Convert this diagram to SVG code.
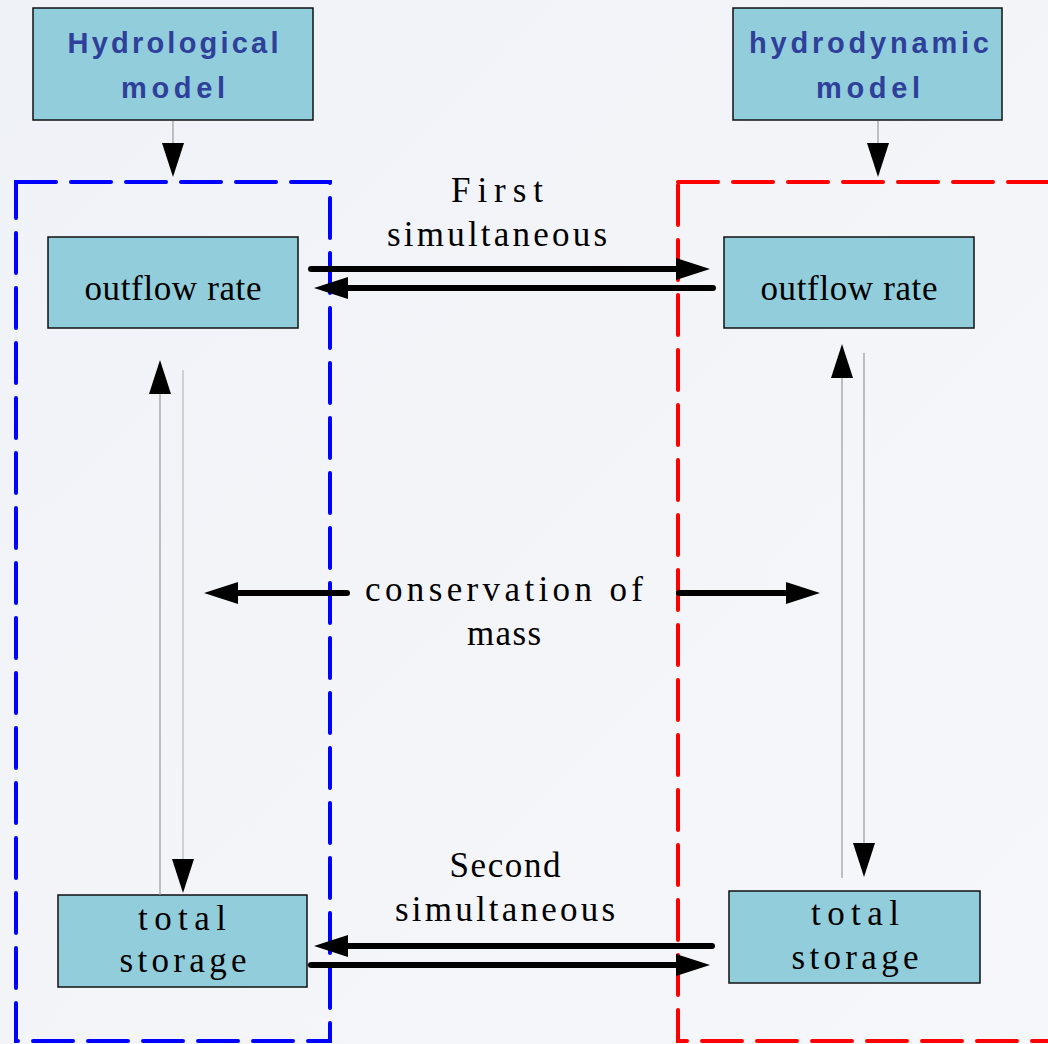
<svg xmlns="http://www.w3.org/2000/svg" width="1048" height="1044" viewBox="0 0 1048 1044">
<defs>
<linearGradient id="bg" x1="0" y1="0" x2="1" y2="1">
<stop offset="0" stop-color="#EFF2F7"/>
<stop offset="1" stop-color="#F6F7FA"/>
</linearGradient>
<marker id="big" markerUnits="userSpaceOnUse" markerWidth="34" markerHeight="22" refX="4" refY="11" orient="auto">
<path d="M0,0 L34,11 L0,22 Z" fill="#000"/>
</marker>
<marker id="small" markerUnits="userSpaceOnUse" markerWidth="34" markerHeight="22" refX="1" refY="11" orient="auto">
<path d="M0,0 L34,11 L0,22 Z" fill="#000"/>
</marker>
<style>
.box{fill:#92CDDC;stroke:#111;stroke-width:1.5}
.title{font-family:"Liberation Sans",Arial,sans-serif;font-weight:bold;font-size:29px;fill:#2E4099;text-anchor:middle}
.lbl{font-family:"Liberation Serif","Times New Roman",serif;font-size:35px;fill:#000;text-anchor:middle}
.thick{stroke:#000;stroke-width:6;stroke-linecap:round;fill:none;marker-end:url(#big)}
.thin{stroke:#9a9a9a;stroke-width:1.2;fill:none;marker-end:url(#small)}
.thin2{stroke:#b8b8b8;stroke-width:1.2;fill:none;marker-end:url(#small)}
.dash{fill:none;stroke-width:4;stroke-dasharray:40 15;stroke-linecap:round}
</style>
</defs>
<rect width="1048" height="1044" fill="url(#bg)"/>

<g id="frame-hydrological">
<rect x="16" y="182" width="314" height="859" class="dash" stroke="#0000FF"/>
</g>
<g id="frame-hydrodynamic">
<rect x="678" y="182" width="400" height="859" class="dash" stroke="#FF0000"/>
</g>

<g id="node-hydrological-model">
<rect x="33" y="8" width="280" height="112" class="box"/>
<text x="173" y="53" class="title" textLength="211" lengthAdjust="spacing">Hydrological</text>
<text x="173" y="98" class="title" textLength="104" lengthAdjust="spacing">model</text>
</g>
<g id="node-hydrodynamic-model">
<rect x="733" y="8" width="269" height="112" class="box"/>
<text x="869" y="53" class="title" textLength="240" lengthAdjust="spacing">hydrodynamic</text>
<text x="868" y="98" class="title" textLength="104" lengthAdjust="spacing">model</text>
</g>
<g id="node-outflow-left">
<rect x="48" y="237" width="250" height="91" class="box"/>
<text x="173" y="300" class="lbl" textLength="177" lengthAdjust="spacing">outflow rate</text>
</g>
<g id="node-outflow-right">
<rect x="724" y="237" width="250" height="91" class="box"/>
<text x="849" y="300" class="lbl" textLength="177" lengthAdjust="spacing">outflow rate</text>
</g>
<g id="node-storage-left">
<rect x="58" y="895" width="249" height="92" class="box"/>
<text x="182" y="930" class="lbl" textLength="88" lengthAdjust="spacing">total</text>
<text x="183" y="972" class="lbl" textLength="127" lengthAdjust="spacing">storage</text>
</g>
<g id="node-storage-right">
<rect x="729" y="891" width="251" height="92" class="box"/>
<text x="855" y="925" class="lbl" textLength="88" lengthAdjust="spacing">total</text>
<text x="855" y="969" class="lbl" textLength="127" lengthAdjust="spacing">storage</text>
</g>

<g id="labels">
<text x="497" y="202" class="lbl" textLength="92" lengthAdjust="spacing">First</text>
<text x="497" y="246" class="lbl" textLength="220" lengthAdjust="spacing">simultaneous</text>
<text x="504" y="601" class="lbl" textLength="278" lengthAdjust="spacing">conservation of</text>
<text x="504" y="645" class="lbl" textLength="74" lengthAdjust="spacing">mass</text>
<text x="505" y="877" class="lbl" textLength="111" lengthAdjust="spacing">Second</text>
<text x="505" y="921" class="lbl" textLength="220" lengthAdjust="spacing">simultaneous</text>
</g>

<g id="connectors">
<line x1="173" y1="121" x2="173" y2="144" class="thin"/>
<line x1="878" y1="121" x2="878" y2="144" class="thin"/>
<line x1="311" y1="269" x2="680" y2="269" class="thick"/>
<line x1="713" y1="288" x2="344" y2="288" class="thick"/>
<line x1="347" y1="593" x2="234" y2="593" class="thick"/>
<line x1="679" y1="593" x2="790" y2="593" class="thick"/>
<line x1="712" y1="946" x2="344" y2="946" class="thick"/>
<line x1="311" y1="965" x2="680" y2="965" class="thick"/>
<line x1="160" y1="895" x2="160" y2="393" class="thin"/>
<line x1="183" y1="370" x2="183" y2="860" class="thin2"/>
<line x1="842" y1="878" x2="842" y2="377" class="thin"/>
<line x1="864" y1="353" x2="864" y2="844" class="thin"/>
</g>
</svg>
